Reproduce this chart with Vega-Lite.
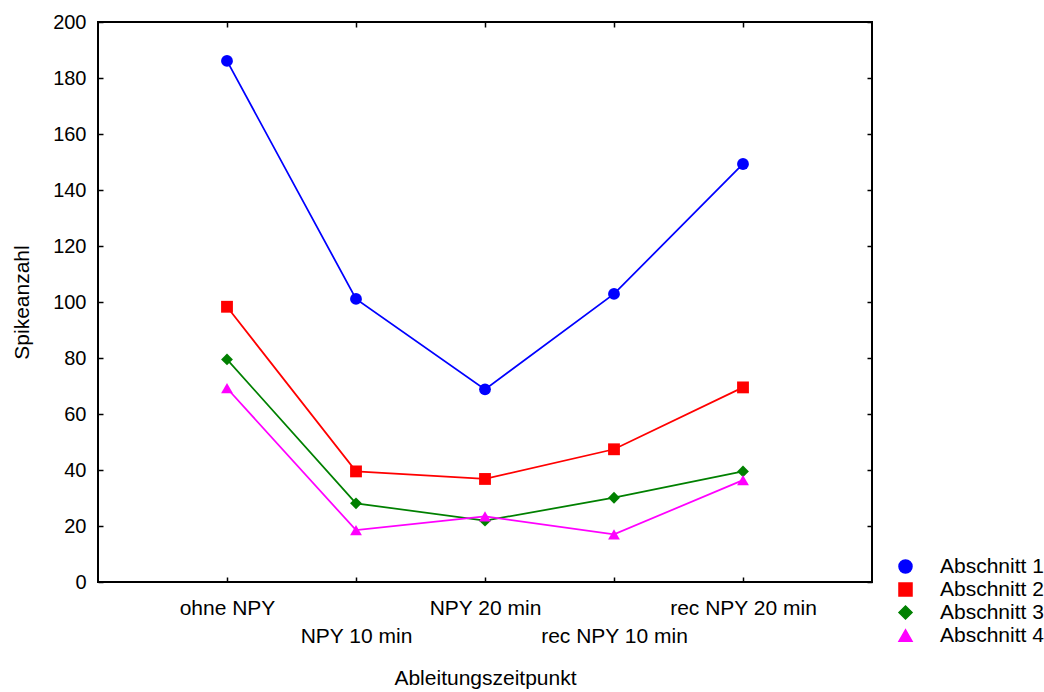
{
  "$schema": "https://vega.github.io/schema/vega-lite/v6.json",
  "width": 774,
  "height": 560,
  "autosize": "none",
  "padding": {"left": 98, "top": 22, "right": 172, "bottom": 110},
  "background": "white",
  "config": {
    "font": "Liberation Sans",
    "view": {"stroke": "black", "strokeWidth": 2},
    "axis": {
      "grid": false,
      "domain": false,
      "labelFont": "Liberation Sans",
      "labelFontSize": 20,
      "labelColor": "black",
      "titleFont": "Liberation Sans",
      "titleFontSize": 21,
      "titleFontWeight": "normal",
      "titleColor": "black",
      "tickColor": "black",
      "tickSize": -5,
      "tickWidth": 1.5
    },
    "legend": {
      "labelFont": "Liberation Sans",
      "labelFontSize": 21,
      "labelColor": "black"
    }
  },
  "data": {
    "values": [
      {"t": "ohne NPY", "s": "Abschnitt 1", "v": 186.1},
      {"t": "NPY 10 min", "s": "Abschnitt 1", "v": 101.1},
      {"t": "NPY 20 min", "s": "Abschnitt 1", "v": 68.8},
      {"t": "rec NPY 10 min", "s": "Abschnitt 1", "v": 102.9},
      {"t": "rec NPY 20 min", "s": "Abschnitt 1", "v": 149.3},
      {"t": "ohne NPY", "s": "Abschnitt 2", "v": 98.3},
      {"t": "NPY 10 min", "s": "Abschnitt 2", "v": 39.5},
      {"t": "NPY 20 min", "s": "Abschnitt 2", "v": 36.8},
      {"t": "rec NPY 10 min", "s": "Abschnitt 2", "v": 47.4},
      {"t": "rec NPY 20 min", "s": "Abschnitt 2", "v": 69.5},
      {"t": "ohne NPY", "s": "Abschnitt 3", "v": 79.5},
      {"t": "NPY 10 min", "s": "Abschnitt 3", "v": 28.1},
      {"t": "NPY 20 min", "s": "Abschnitt 3", "v": 21.9},
      {"t": "rec NPY 10 min", "s": "Abschnitt 3", "v": 30.1},
      {"t": "rec NPY 20 min", "s": "Abschnitt 3", "v": 39.5},
      {"t": "ohne NPY", "s": "Abschnitt 4", "v": 69.2},
      {"t": "NPY 10 min", "s": "Abschnitt 4", "v": 18.5},
      {"t": "NPY 20 min", "s": "Abschnitt 4", "v": 23.4},
      {"t": "rec NPY 10 min", "s": "Abschnitt 4", "v": 17.0},
      {"t": "rec NPY 20 min", "s": "Abschnitt 4", "v": 36.4}
    ]
  },
  "layer": [
    {
      "mark": {"type": "line", "strokeWidth": 1.75},
      "encoding": {
        "x": {
          "field": "t", "type": "ordinal",
          "scale": {"type": "point", "padding": 1, "domain": ["ohne NPY", "NPY 10 min", "NPY 20 min", "rec NPY 10 min", "rec NPY 20 min"]},
          "axis": {
            "orient": "bottom",
            "title": "Ableitungszeitpunkt",
            "labelAngle": 0,
            "labelOverlap": false,
            "labelFontSize": 21,
            "labelPadding": 20,
            "labelLineHeight": 28,
            "labelExpr": "datum.value === 'NPY 10 min' || datum.value === 'rec NPY 10 min' ? ['', datum.value] : datum.value",
            "titlePadding": 21
          }
        },
        "y": {
          "field": "v", "type": "quantitative",
          "scale": {"domain": [0, 200], "nice": false},
          "axis": {"orient": "left", "title": "Spikeanzahl", "values": [0, 20, 40, 60, 80, 100, 120, 140, 160, 180, 200], "labelPadding": 17, "titlePadding": 20}
        },
        "color": {
          "field": "s", "type": "nominal",
          "scale": {"domain": ["Abschnitt 1", "Abschnitt 2", "Abschnitt 3", "Abschnitt 4"], "range": ["#0000ff", "#ff0000", "#008000", "#ff00ff"]},
          "legend": {
            "title": null, "orient": "none", "legendX": 797, "legendY": 534,
            "symbolSize": 170, "symbolStrokeWidth": 1.5, "rowPadding": 1, "labelOffset": 24
          }
        }
      }
    },
    {
      "mark": {"type": "point", "filled": true, "size": 140, "opacity": 1},
      "encoding": {
        "x": {
          "field": "t", "type": "ordinal",
          "scale": {"type": "point", "padding": 1, "domain": ["ohne NPY", "NPY 10 min", "NPY 20 min", "rec NPY 10 min", "rec NPY 20 min"]},
          "axis": {"orient": "top", "labels": false, "title": null}
        },
        "y": {
          "field": "v", "type": "quantitative",
          "scale": {"domain": [0, 200], "nice": false},
          "axis": {"orient": "right", "labels": false, "title": null, "values": [0, 20, 40, 60, 80, 100, 120, 140, 160, 180, 200]}
        },
        "color": {
          "field": "s", "type": "nominal",
          "scale": {"domain": ["Abschnitt 1", "Abschnitt 2", "Abschnitt 3", "Abschnitt 4"], "range": ["#0000ff", "#ff0000", "#008000", "#ff00ff"]},
          "legend": {
            "title": null, "orient": "none", "legendX": 797, "legendY": 534,
            "symbolSize": 170, "symbolStrokeWidth": 1.5, "rowPadding": 1, "labelOffset": 24
          }
        },
        "shape": {
          "field": "s", "type": "nominal",
          "scale": {"domain": ["Abschnitt 1", "Abschnitt 2", "Abschnitt 3", "Abschnitt 4"], "range": ["circle", "square", "diamond", "triangle-up"]},
          "legend": {
            "title": null, "orient": "none", "legendX": 797, "legendY": 534,
            "symbolSize": 170, "symbolStrokeWidth": 1.5, "rowPadding": 1, "labelOffset": 24
          }
        }
      }
    }
  ],
  "resolve": {"axis": {"x": "independent", "y": "independent"}}
}
